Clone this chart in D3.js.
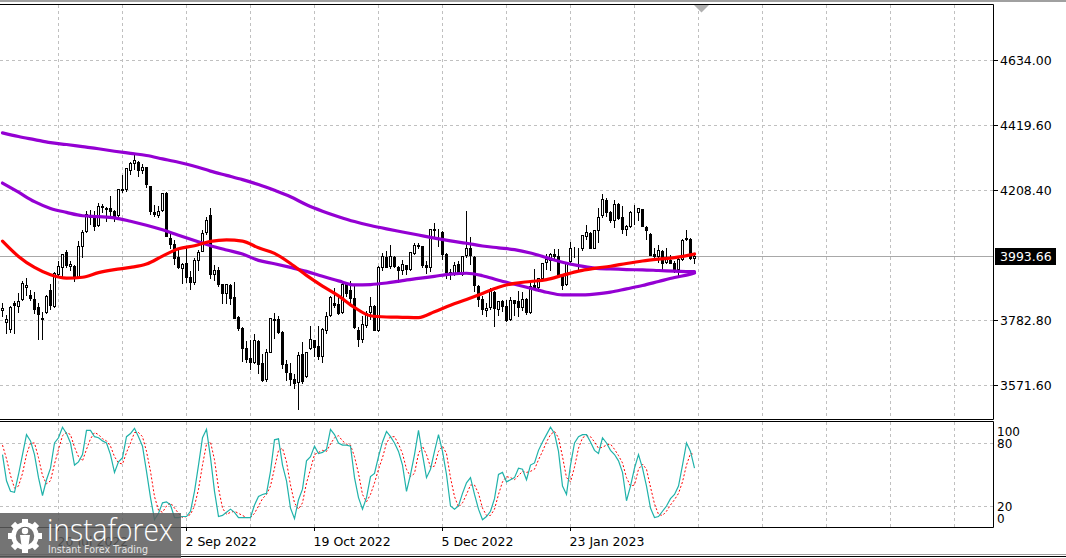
<!DOCTYPE html>
<html><head><meta charset="utf-8">
<script src="https://cdn.jsdelivr.net/npm/d3@7"></script>
<style>html,body{margin:0;padding:0;background:#fff;overflow:hidden}</style>
</head><body>
<svg id="c" width="1066" height="558" xmlns="http://www.w3.org/2000/svg"></svg>
<script>
// ---------- DATA ----------
const dates = ["2022-06-29","2022-06-30",
"2022-07-01","2022-07-05","2022-07-06","2022-07-07","2022-07-08","2022-07-11","2022-07-12","2022-07-13","2022-07-14","2022-07-15","2022-07-18","2022-07-19","2022-07-20","2022-07-21","2022-07-22","2022-07-25","2022-07-26","2022-07-27","2022-07-28","2022-07-29",
"2022-08-01","2022-08-02","2022-08-03","2022-08-04","2022-08-05","2022-08-08","2022-08-09","2022-08-10","2022-08-11","2022-08-12","2022-08-15","2022-08-16","2022-08-17","2022-08-18","2022-08-19","2022-08-22","2022-08-23","2022-08-24","2022-08-25","2022-08-26","2022-08-29","2022-08-30","2022-08-31",
"2022-09-01","2022-09-02","2022-09-06","2022-09-07","2022-09-08","2022-09-09","2022-09-12","2022-09-13","2022-09-14","2022-09-15","2022-09-16","2022-09-19","2022-09-20","2022-09-21","2022-09-22","2022-09-23","2022-09-26","2022-09-27","2022-09-28","2022-09-29","2022-09-30",
"2022-10-03","2022-10-04","2022-10-05","2022-10-06","2022-10-07","2022-10-10","2022-10-11","2022-10-12","2022-10-13","2022-10-14","2022-10-17","2022-10-18","2022-10-19","2022-10-20","2022-10-21","2022-10-24","2022-10-25","2022-10-26","2022-10-27","2022-10-28","2022-10-31",
"2022-11-01","2022-11-02","2022-11-03","2022-11-04","2022-11-07","2022-11-08","2022-11-09","2022-11-10","2022-11-11","2022-11-14","2022-11-15","2022-11-16","2022-11-17","2022-11-18","2022-11-21","2022-11-22","2022-11-23","2022-11-25","2022-11-28","2022-11-29","2022-11-30",
"2022-12-01","2022-12-02","2022-12-05","2022-12-06","2022-12-07","2022-12-08","2022-12-09","2022-12-12","2022-12-13","2022-12-14","2022-12-15","2022-12-16","2022-12-19","2022-12-20","2022-12-21","2022-12-22","2022-12-23","2022-12-27","2022-12-28","2022-12-29","2022-12-30",
"2023-01-03","2023-01-04","2023-01-05","2023-01-06","2023-01-09","2023-01-10","2023-01-11","2023-01-12","2023-01-13","2023-01-17","2023-01-18","2023-01-19","2023-01-20","2023-01-23","2023-01-24","2023-01-25","2023-01-26","2023-01-27","2023-01-30","2023-01-31",
"2023-02-01","2023-02-02","2023-02-03","2023-02-06","2023-02-07","2023-02-08","2023-02-09","2023-02-10","2023-02-13","2023-02-14","2023-02-15","2023-02-16","2023-02-17","2023-02-21","2023-02-22","2023-02-23","2023-02-24","2023-02-27","2023-02-28",
"2023-03-01","2023-03-02","2023-03-03","2023-03-06","2023-03-07","2023-03-08"];

const open = [3815,3777,3755,3840,3828,3852,3892,3866,3852,3825,
3786,3810,3880,3830,3935,3955,4005,3960,3960,3925,
4025,4075,4125,4115,4095,4155,4150,4148,4138,4125,
4212,4210,4275,4295,4300,4273,4282,4220,4136,4128,
4142,4198,4052,4033,3988,3953,3968,3925,3906,3978,
4010,4070,4125,3935,3945,3900,3870,3898,3858,3792,
3756,3690,3660,3645,3716,3642,3590,3680,3788,3785,
3743,3640,3610,3590,3580,3672,3600,3690,3718,3697,
3665,3750,3798,3840,3835,3808,3900,3880,3856,3750,
3722,3768,3808,3830,3752,3958,3990,3960,3990,3955,
3948,3963,3950,4003,4028,4025,3962,3958,4080,4070,
4070,3998,3940,3935,3965,3935,3995,4020,3990,3895,
3853,3815,3825,3876,3820,3845,3830,3785,3848,3845,
3825,3852,3810,3897,3890,3920,3972,3980,3998,3993,
3927,3900,3975,4018,4015,4018,4058,4068,4020,4078,
4125,4175,4135,4110,4162,4120,4080,4092,4135,4135,
4145,4088,4065,3998,3992,4010,3972,3980,3970,3950,
3983,4050,4047,3987];

const high = [3838,3800,3829,3846,3871,3912,3919,3880,3874,3839,
3810,3864,3902,3940,3975,4000,4013,3975,3962,4040,
4079,4141,4144,4140,4167,4161,4152,4187,4142,4211,
4258,4280,4301,4325,4302,4293,4284,4222,4160,4156,
4200,4203,4063,4044,4016,3971,4019,3942,3987,4011,
4077,4119,4150,3962,3958,3902,3900,3900,3907,3795,
3760,3716,3717,3736,3718,3671,3689,3791,3806,3797,
3746,3653,3641,3608,3677,3712,3679,3762,3719,3762,
3757,3810,3862,3887,3859,3905,3902,3911,3894,3760,
3796,3814,3859,3832,3959,4002,4009,4028,3992,3960,
3980,3964,4004,4034,4035,4026,3976,4080,4101,4080,
4073,4002,3951,3974,3977,3991,4140,4053,3992,3897,
3860,3839,3888,3878,3846,3850,3848,3858,3850,3879,
3874,3854,3907,3950,3920,3970,3998,4003,4016,4015,
3930,3973,4039,4023,4019,4061,4095,4070,4077,4149,
4195,4183,4138,4176,4165,4157,4094,4138,4160,4149,
4147,4090,4068,4018,4029,4012,4018,3997,3975,3991,
4048,4079,4051,4000];

const low = [3797,3739,3745,3742,3809,3850,3866,3847,3807,3722,
3722,3805,3819,3825,3930,3927,3955,3946,3911,3920,
3989,4070,4097,4079,4090,4136,4107,4128,4106,4120,
4201,4205,4262,4277,4253,4263,4219,4131,4124,4119,
4140,4058,4017,3965,3954,3904,3907,3886,3900,3945,
4008,4065,3921,3913,3895,3838,3839,3837,3789,3750,
3648,3645,3623,3641,3610,3585,3584,3680,3723,3739,
3627,3588,3569,3560,3491,3577,3598,3687,3666,3656,
3647,3742,3795,3824,3803,3805,3863,3843,3758,3699,
3710,3760,3786,3749,3748,3945,3956,3954,3955,3907,
3935,3934,3948,3998,4020,3956,3938,3944,4058,4026,
3984,3919,3917,3930,3934,3930,3990,3966,3879,3828,
3803,3795,3820,3765,3798,3813,3781,3783,3801,3795,
3815,3802,3805,3890,3877,3918,3950,3947,3985,3926,
3886,3898,3971,3990,3949,4013,4049,4017,4017,4038,
4120,4124,4103,4088,4114,4069,4060,4088,4096,4110,
4090,4048,3996,3981,3972,3944,3970,3969,3939,3928,
3978,4044,3981,3969];

const close = [3821,3785,3825,3831,3845,3903,3899,3854,3819,3802,
3790,3863,3831,3937,3960,3999,3962,3967,3921,4024,
4072,4130,4119,4091,4155,4152,4145,4140,4122,4210,
4207,4280,4297,4305,4274,4284,4228,4138,4129,4141,
4199,4058,4031,3986,3955,3967,3924,3908,3980,4006,
4067,4110,3933,3946,3901,3873,3900,3856,3790,3758,
3693,3655,3647,3719,3640,3586,3678,3791,3783,3745,
3640,3612,3589,3577,3670,3583,3678,3720,3695,3666,
3753,3797,3859,3831,3807,3901,3872,3856,3760,3720,
3771,3807,3828,3749,3956,3993,3957,3992,3959,3947,
3965,3950,4004,4027,4026,3964,3958,4080,4077,4072,
3999,3941,3934,3964,3934,3991,4020,3995,3896,3852,
3818,3822,3878,3822,3845,3829,3783,3849,3840,3824,
3853,3808,3895,3892,3919,3970,3983,3999,3991,3929,
3899,3973,4020,4017,4016,4060,4071,4018,4077,4119,
4180,4136,4111,4164,4118,4082,4090,4137,4136,4148,
4090,4079,3997,3991,4012,3970,3982,3970,3951,3981,
4046,4048,3986,3993.66];

// moving averages, read every 4th bar (plus the last bar)
const maRed = [4041,3991,3955,3931,3920,3923,3938,3948,3955,3966,
3992,4016,4026,4040,4045,4041,4019,4001,3968,3929,
3894,3862,3824,3797,3793,3792,3791,3810,3831,3850,
3870,3890,3903,3909,3915,3929,3943,3952,3959,3968,
3976,3982,3987,3996,3999];
const maSlow = [4395,4383,4373,4363,4357,4350,4343,4335,4328,4321,
4310,4299,4286,4270,4256,4242,4226,4207,4186,4160,
4139,4121,4105,4092,4081,4071,4061,4051,4042,4034,
4025,4019,4013,4002,3987,3972,3961,3953,3950,3948,
3947,3945,3943,3941,3941];
const maMid = [4231,4201,4170,4148,4135,4124,4121,4117,4106,4093,
4078,4060,4043,4026,4012,3999,3978,3967,3955,3942,
3926,3911,3898,3899,3904,3912,3919,3926,3933,3936,
3928,3913,3900,3887,3874,3865,3865,3868,3874,3885,
3896,3909,3922,3933,3937];

const stochMain = [69,44,34,33,50,69,88,82,69,47,
30,45,56,80,85,95,89,80,59,62,
69,92,92,86,85,82,80,69,52,62,
66,86,89,94,86,77,53,28,7,13,
23,24,21,9,9,10,10,15,34,59,
85,93,66,34,10,11,14,17,14,9,
9,9,9,21,29,31,32,53,83,84,
59,44,18,8,26,36,63,67,77,70,
71,74,93,88,80,78,78,77,47,28,
17,28,48,51,67,81,91,86,80,72,
59,34,50,69,92,69,47,55,72,88,
72,50,20,17,20,32,42,47,31,17,
7,10,15,27,50,52,43,45,47,56,
55,45,59,61,73,81,88,95,89,72,
39,31,59,80,86,88,88,81,73,70,
85,80,73,69,63,52,25,39,56,69,
56,39,18,9,10,15,20,27,31,39,
59,80,72,56];
const stochSignal = [78,65,49,37,39,51,69,80,80,66,
49,41,44,60,74,87,90,88,76,67,
63,74,84,90,88,84,82,77,67,61,
60,71,80,90,90,86,72,53,29,16,
14,20,23,18,13,9,10,12,20,36,
59,79,81,64,37,18,12,14,15,13,
11,9,9,13,20,27,31,39,56,73,
75,62,40,23,17,23,42,55,69,71,
73,72,79,85,87,82,79,78,67,51,
31,24,31,42,55,66,80,86,86,79,
70,55,48,51,70,77,69,57,58,72,
77,70,47,29,19,23,31,40,40,32,
18,11,11,17,31,43,48,47,45,49,
53,52,53,55,64,72,81,88,91,85,
67,47,43,57,75,85,87,86,81,75,
76,78,79,74,68,61,47,39,40,55,
60,55,38,22,12,11,15,21,26,32,
43,59,70,69];

const priceTicks = [4634.00, 4419.60, 4208.40, 3782.80, 3571.60];
const bidPrice = 3993.66;
const stochLevels = [80, 20];
const stochLabels = ["100", "80", "20", "0"];
const dateLabels = ["20 Jul 2022", "2 Sep 2022", "19 Oct 2022", "5 Dec 2022", "23 Jan 2023"];
const dateLabelDays = ["2022-07-20", "2022-09-02", "2022-10-19", "2022-12-05", "2023-01-23"];

// ---------- LAYOUT ----------
const W = 1066, H = 558;
const plotR = 993;
const mainTop = 5, mainBot = 419;
const oscTop = 422, oscBot = 527;
const FONT = "DejaVu Sans, Verdana, sans-serif";

const svg = d3.select("#c");
const n = dates.length;
const x = d3.scaleLinear().domain([0, n - 1]).range([2, 694]);
const y = d3.scaleLinear().domain([3459.4, 4813.1]).range([mainBot, mainTop]);
const yo = d3.scaleLinear().domain([0, 100]).range([oscBot, oscTop]);
const px = i => Math.round(x(i)) + 0.5;
const py = v => Math.round(y(v)) + 0.5;

const defs = svg.append("defs");
defs.append("clipPath").attr("id", "mainClip").append("rect")
  .attr("x", 0).attr("y", mainTop).attr("width", plotR).attr("height", mainBot - mainTop);
defs.append("clipPath").attr("id", "oscClip").append("rect")
  .attr("x", 0).attr("y", oscTop).attr("width", plotR).attr("height", oscBot - oscTop);

svg.append("rect").attr("width", W).attr("height", H).attr("fill", "#fff");

// top band
svg.append("rect").attr("x", 0).attr("y", 0).attr("width", W).attr("height", 2).attr("fill", "#a0a0a0");

// ---------- GRID ----------
const gridCol = "#c0c0c0";
const gridIdx = d3.range(14, 260, 16).filter(i => x(i) < plotR);
const grid = svg.append("g").attr("stroke", gridCol).attr("stroke-width", 1).attr("stroke-dasharray", "3,3");
gridIdx.forEach(i => {
  grid.append("line").attr("x1", px(i)).attr("x2", px(i)).attr("y1", mainTop).attr("y2", mainBot);
  grid.append("line").attr("x1", px(i)).attr("x2", px(i)).attr("y1", oscTop).attr("y2", oscBot);
});
priceTicks.forEach(v => {
  grid.append("line").attr("x1", 0).attr("x2", plotR).attr("y1", py(v)).attr("y2", py(v));
});
stochLevels.forEach(v => {
  const yy = Math.round(yo(v)) + 0.5;
  grid.append("line").attr("x1", 0).attr("x2", plotR).attr("y1", yy).attr("y2", yy);
});

// bid line
svg.append("line").attr("x1", 0).attr("x2", plotR).attr("y1", py(bidPrice)).attr("y2", py(bidPrice))
  .attr("stroke", "#a8a8a8").attr("stroke-width", 1);

// ---------- CANDLES ----------
const cg = svg.append("g").attr("clip-path", "url(#mainClip)");
const idx = d3.range(n);
cg.selectAll("line.w").data(idx).join("line").attr("class", "w")
  .attr("x1", i => px(i)).attr("x2", i => px(i))
  .attr("y1", i => py(high[i]) - 0.5).attr("y2", i => py(low[i]) + 0.5)
  .attr("stroke", "#000").attr("stroke-width", 1);
cg.selectAll("rect.b").data(idx).join("rect").attr("class", "b")
  .attr("x", i => px(i) - 1)
  .attr("width", 2)
  .attr("y", i => py(Math.max(open[i], close[i])))
  .attr("height", i => Math.max(0, py(Math.min(open[i], close[i])) - py(Math.max(open[i], close[i]))))
  .attr("fill", i => close[i] >= open[i] ? "#fff" : "#000")
  .attr("stroke", "#000").attr("stroke-width", 1);

// ---------- MOVING AVERAGES ----------
const maIdx = idx.filter(i => i % 4 === 0 || i === n - 1);
const maLine = d3.line().x(d => x(d[0]) + 0.5).y(d => y(d[1])).curve(d3.curveMonotoneX);
const mg = svg.append("g").attr("clip-path", "url(#mainClip)").attr("fill", "none")
  .attr("stroke-linejoin", "round").attr("stroke-linecap", "round");
mg.append("path").attr("d", maLine(maIdx.map((i, k) => [i, maSlow[k]]))).attr("stroke", "#9400d3").attr("stroke-width", 3.2);
mg.append("path").attr("d", maLine(maIdx.map((i, k) => [i, maMid[k]]))).attr("stroke", "#9400d3").attr("stroke-width", 3.2);
mg.append("path").attr("d", maLine(maIdx.map((i, k) => [i, maRed[k]]))).attr("stroke", "#ff0000").attr("stroke-width", 3.2);

// ---------- STOCHASTIC ----------
const og = svg.append("g").attr("clip-path", "url(#oscClip)").attr("fill", "none");
const oLine = d3.line().x((d, i) => x(i) + 0.5).y(d => yo(d));
og.append("path").attr("d", oLine(stochSignal)).attr("stroke", "#ff0000").attr("stroke-width", 1).attr("stroke-dasharray", "2,2");
og.append("path").attr("d", oLine(stochMain)).attr("stroke", "#20b2aa").attr("stroke-width", 1.2);

// ---------- FRAMES ----------
const fr = svg.append("g").attr("stroke", "#000").attr("stroke-width", 1);
fr.append("line").attr("x1", 0).attr("x2", plotR + 0.5).attr("y1", 4.5).attr("y2", 4.5);
fr.append("line").attr("x1", plotR + 0.5).attr("x2", plotR + 0.5).attr("y1", 4.5).attr("y2", mainBot + 0.5);
fr.append("line").attr("x1", 0).attr("x2", plotR + 0.5).attr("y1", mainBot + 0.5).attr("y2", mainBot + 0.5);
fr.append("line").attr("x1", 0).attr("x2", plotR + 0.5).attr("y1", oscTop - 0.5).attr("y2", oscTop - 0.5);
fr.append("line").attr("x1", plotR + 0.5).attr("x2", plotR + 0.5).attr("y1", oscTop - 0.5).attr("y2", oscBot + 0.5);
fr.append("line").attr("x1", 0).attr("x2", plotR + 0.5).attr("y1", oscBot + 0.5).attr("y2", oscBot + 0.5);
svg.append("line").attr("x1", 0).attr("x2", W).attr("y1", 554.5).attr("y2", 554.5).attr("stroke", "#a0a0a0");
svg.append("line").attr("x1", 0).attr("x2", W).attr("y1", 556.5).attr("y2", 556.5).attr("stroke", "#000");

// shift marker
svg.append("path").attr("d", d3.line()([[694, 5], [709, 5], [701.5, 12.5]]) + "Z").attr("fill", "#b0b0b0");

// ---------- PRICE AXIS ----------
const ax = svg.append("g").attr("font-family", FONT).attr("font-size", 12.5).attr("fill", "#000");
priceTicks.forEach(v => {
  ax.append("line").attr("x1", plotR + 1).attr("x2", plotR + 5).attr("y1", py(v)).attr("y2", py(v)).attr("stroke", "#000");
  ax.append("text").attr("x", 1000).attr("y", py(v) + 4.5).text(v.toFixed(2));
});
const by = py(bidPrice);
ax.append("rect").attr("x", 995).attr("y", by - 8.5).attr("width", 61).attr("height", 17).attr("fill", "#000");
ax.append("text").attr("x", 1000).attr("y", by + 4.5).attr("fill", "#fff").text(bidPrice.toFixed(2));

// stochastic axis
const sax = svg.append("g").attr("font-family", FONT).attr("font-size", 12).attr("fill", "#000");
const stochLabelVals = [100, 80, 20, 0];
const stochLabelShift = [9.5, 0.5, 0.5, -8.5];
stochLabelVals.forEach((v, k) => {
  const yy = yo(v) + stochLabelShift[k];
  sax.append("text").attr("x", 997).attr("y", yy + 4.5).text(stochLabels[k]);
});

// ---------- DATE AXIS ----------
const dax = svg.append("g").attr("font-family", FONT).attr("font-size", 12.5).attr("fill", "#000");
dateLabelDays.forEach((d, k) => {
  const i = dates.indexOf(d);
  dax.append("line").attr("x1", px(i)).attr("x2", px(i)).attr("y1", oscBot + 1).attr("y2", oscBot + 4).attr("stroke", "#000");
  dax.append("text").attr("x", px(i) - 1).attr("y", 546).text(dateLabels[k]);
});

// ---------- WATERMARK ----------
const wm = svg.append("g");
wm.append("rect").attr("x", 0).attr("y", 513).attr("width", 181).attr("height", 45).attr("fill", "#5c5c5c").attr("opacity", 0.85);
const icon = wm.append("g").attr("transform", "translate(25,536)").attr("fill", "#fff");
d3.range(8).forEach(k => {
  icon.append("rect").attr("x", -3).attr("y", -17).attr("width", 6).attr("height", 7).attr("transform", `rotate(${k * 45})`);
});
icon.append("circle").attr("r", 11.5).attr("fill", "none").attr("stroke", "#fff").attr("stroke-width", 4.5);
icon.append("circle").attr("cy", -5).attr("r", 3.2);
icon.append("path").attr("d", "M-5,-1 L5,-1 L3,13 L-3,13 Z");
wm.append("text").attr("x", 47).attr("y", 541).text("instaforex")
  .attr("font-family", "Open Sans, Lato, DejaVu Sans, sans-serif").attr("font-weight", 300)
  .attr("font-size", 31).attr("fill", "#fff").attr("textLength", 126).attr("lengthAdjust", "spacingAndGlyphs");
wm.append("text").attr("x", 48).attr("y", 553).text("Instant Forex Trading")
  .attr("font-family", "DejaVu Sans, sans-serif").attr("font-size", 11)
  .attr("fill", "#e6e6e6").attr("textLength", 100).attr("lengthAdjust", "spacingAndGlyphs");
</script>
</body></html>
